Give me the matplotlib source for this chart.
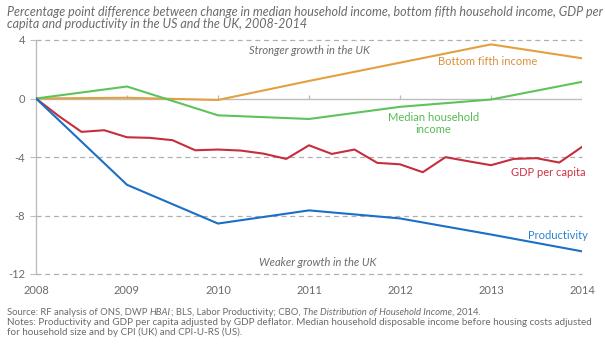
import numpy as np
import matplotlib.pyplot as plt

plt.rcParams['font.family'] = ['Lato', 'DejaVu Sans']

# annual series (percentage point difference, UK vs US)
years = [2008, 2009, 2010, 2011, 2012, 2013, 2014]
productivity = [0, -5.9, -8.55, -7.65, -8.2, -9.3, -10.45]
bottom_fifth = [0, 0.05, -0.1, 1.2, 2.45, 3.7, 2.75]
median_income = [0, 0.82, -1.15, -1.4, -0.57, -0.07, 1.14]

# quarterly GDP per capita, 2008Q1 to 2014Q1
gdp_per_capita = [0, -1.2, -2.28, -2.17, -2.65, -2.69, -2.85, -3.54,
                  -3.49, -3.56, -3.77, -4.13, -3.2, -3.79, -3.49, -4.4,
                  -4.5, -5.04, -4.01, -4.29, -4.56, -4.13, -4.08, -4.38,
                  -3.31]
quarters = 2008 + np.arange(len(gdp_per_capita)) / 4.0

yticks = [4, 0, -4, -8, -12]

c_orange = '#E2A042'
c_green = '#5DC35A'
c_red = '#C62E3D'
c_blue = '#1C6FC6'
c_grey = '#6B6B6B'

W, H = 605, 348
fig = plt.figure(figsize=(W / 100, H / 100), dpi=100)
ax = fig.add_axes([36 / W, 74 / H, 546 / W, 234 / H])

ax.set_xlim(2008, 2014)
ax.set_ylim(-12, 4)

# dashed reference lines, solid zero line with year ticks
for y in yticks:
    if y != 0:
        ax.axhline(y, color='#B0B0B0', lw=0.9, ls=(0, (4, 3)), zorder=1,
                   clip_on=False)
ax.axhline(0, color='#BDBDBD', lw=1.0, zorder=1)
ax.vlines(years[1:], 0, 0.22, color='#BDBDBD', lw=1.0, zorder=1)

ax.plot(years, bottom_fifth, color=c_orange, lw=1.5, zorder=3)
ax.plot(years, median_income, color=c_green, lw=1.5, zorder=3)
ax.plot(quarters, gdp_per_capita, color=c_red, lw=1.5, zorder=3)
ax.plot(years, productivity, color=c_blue, lw=1.5, zorder=3)

for side in ['top', 'right', 'bottom']:
    ax.spines[side].set_visible(False)
ax.spines['left'].set_color('#BDBDBD')
ax.spines['left'].set_linewidth(1.0)

ax.set_yticks(yticks)
ax.set_yticklabels([str(v) for v in yticks])
ax.set_xticks(years)
ax.set_xticklabels([str(v) for v in years])
ax.tick_params(axis='y', length=4, color='#BDBDBD', labelsize=8,
               labelcolor=c_grey, pad=4)
ax.tick_params(axis='x', length=0, labelsize=8, labelcolor=c_grey, pad=8)

# region and series labels
ax.text(2011.0, 3.3, 'Stronger growth in the UK', style='italic',
        fontsize=8, color=c_grey, ha='center', va='center')
ax.text(2011.09, -11.2, 'Weaker growth in the UK', style='italic',
        fontsize=8, color=c_grey, ha='center', va='center')
ax.text(2012.96, 2.55, 'Bottom fifth income', fontsize=8,
        color='#D9903A', ha='center', va='center')
ax.text(2012.37, -1.68, 'Median household\nincome', fontsize=8,
        color='#55BB55', ha='center', va='center', linespacing=1.1)
ax.text(2013.63, -5.05, 'GDP per capita', fontsize=8,
        color='#CC3344', ha='center', va='center')
ax.text(2013.74, -9.38, 'Productivity', fontsize=8,
        color='#2B80D0', ha='center', va='center')

fig.text(7 / W, 1 - 15.5 / H,
         'Percentage point difference between change in median household '
         'income, bottom fifth household income, GDP per',
         style='italic', fontsize=9.0, color=c_grey, ha='left',
         va='baseline')
fig.text(7 / W, 1 - 28 / H,
         'capita and productivity in the US and the UK, 2008-2014',
         style='italic', fontsize=9.0, color=c_grey, ha='left',
         va='baseline')

# source line with italic titles, pieced together left to right
parts = [('Source: RF analysis of ONS, DWP ', 'normal'),
         ('HBAI', 'italic'),
         ('; BLS, Labor Productivity; CBO, ', 'normal'),
         ('The Distribution of Household Income', 'italic'),
         (', 2014.', 'normal')]
fig.canvas.draw()
renderer = fig.canvas.get_renderer()
xpos = 7
for txt, sty in parts:
    t = fig.text(xpos / W, 1 - 315 / H, txt, fontsize=6.8, color=c_grey,
                 style=sty, ha='left', va='baseline')
    xpos = t.get_window_extent(renderer).x1

notes = ['Notes: Productivity and GDP per capita adjusted by GDP deflator. '
         'Median household disposable income before housing costs adjusted',
         'for household size and by CPI (UK) and CPI-U-RS (US).']
for i, line in enumerate(notes):
    fig.text(7 / W, 1 - (325 + 10 * i) / H, line, fontsize=7.1,
             color=c_grey, ha='left', va='baseline')

fig.savefig('out.png', dpi=100)
